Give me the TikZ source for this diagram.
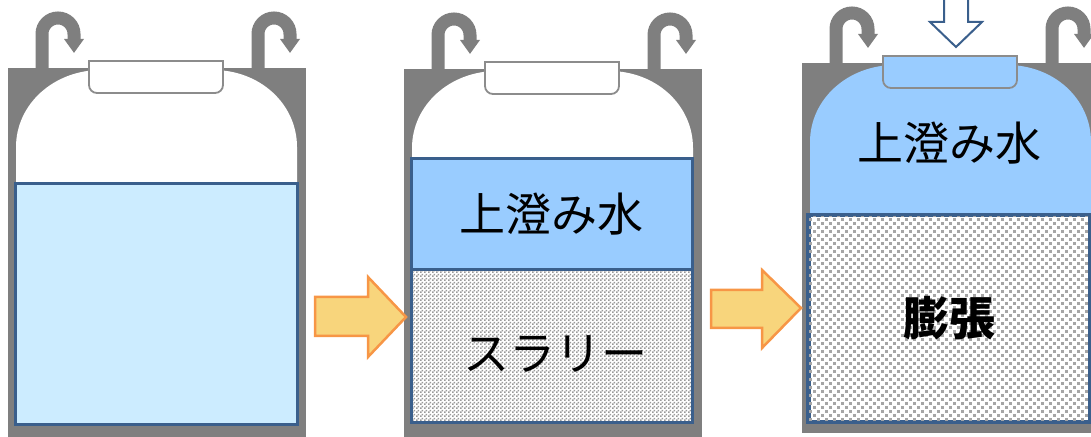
\documentclass[tikz,border=0pt]{standalone}
\usepackage{fontspec}
\newfontfamily\jpfont{Noto Sans CJK JP}
\usetikzlibrary{arrows.meta,patterns.meta}

\definecolor{shellgray}{HTML}{7F7F7F}
\definecolor{lidgray}{HTML}{8C8C8C}
\definecolor{waterblue}{HTML}{CCECFF}
\definecolor{clearblue}{HTML}{99CCFF}
\definecolor{edgeblue}{HTML}{3A5F8C}
\definecolor{arrowfill}{HTML}{F8D57C}
\definecolor{arrowedge}{HTML}{F79646}
\definecolor{dotgray}{HTML}{A6A6A6}

% small checks for the settled slurry
\tikzdeclarepattern{
  name=finechecks, type=uncolored,
  bounding box={(0pt,0pt) and (4pt,4pt)}, tile size={(4pt,4pt)},
  code={\fill (0pt,0pt) rectangle (2pt,2pt); \fill (2pt,2pt) rectangle (4pt,4pt);}}

\begin{document}
\begin{tikzpicture}[
  x=1pt, y=1pt,
  hook/.style={line width=13pt, shellgray, -{Triangle[length=14pt, width=19pt]}},
  layer/.style={draw=edgeblue, line width=3pt, inner sep=0pt, font=\jpfont\fontsize{46}{50}\selectfont},
  slurry/.style={layer, preaction={fill=white}, pattern=finechecks, pattern color=gray!80},
  jptext/.style={font=\jpfont\fontsize{46}{50}\selectfont},
  flow/.style={fill=arrowfill, draw=arrowedge, line width=2.5pt, line join=miter},
  press/.style={fill=white, draw=edgeblue, line width=2pt},
]
  \useasboundingbox (0,0) rectangle (1091,436);
  \clip (0,0) rectangle (1091,436);

  % Vessels: shell, cavity, lid and the two vent hooks
  \foreach \ox/\oy/\bot/\inside in {8/368/372/white, 404/367/372/white, 802/373/370/clearblue} {
    \begin{scope}[shift={(\ox,\oy)}]
      \fill[shellgray] (0,0) rectangle (298,-\bot);
      \fill[\inside] (8,-352) -- (8,-79) .. controls (8,-36) and (46,-2) .. (93,-2)
        -- (205,-2) .. controls (252,-2) and (289,-36) .. (289,-79) -- (289,-352) -- cycle;
      \draw[hook] (34,-2) -- (34,34) arc[start angle=180, end angle=0, radius=16] -- (66,15);
      \draw[hook] (250,-2) -- (250,34) arc[start angle=180, end angle=0, radius=16] -- (282,15);
      \draw[lidgray, line width=1.8pt, fill=\inside] (81,7) -- (81,-17)
        arc[start angle=180, end angle=270, radius=8] -- (207,-25)
        arc[start angle=270, end angle=360, radius=8] -- (215,7) -- cycle;
    \end{scope}
  }

  % Contents
  \node[layer, fill=waterblue, minimum width=282, minimum height=240] (water1) at (156,132) {};
  \node[layer, fill=clearblue, minimum width=281, minimum height=111] (clear2) at (551.5,221.5) {上澄み水};
  \node[slurry, minimum width=281, minimum height=152] (slurry2) at (551.5,90) {};
  \node[jptext] (slurrytext) at (555,82) {スラリー};
  \node[jptext] (clear3) at (949,293) {上澄み水};

  % Swollen bed: coarse staggered dots
  \node[layer, fill=white, minimum width=280, minimum height=205] (swell3) at (949,117.5) {};
  \begin{scope}
    \clip (swell3.south west) rectangle (swell3.north east);
    \foreach \i in {0,...,35}
      \foreach \j in {0,...,26} {
        \fill[dotgray] (809+8*\i,15+8*\j) rectangle ++(3.2,3.2);
        \fill[dotgray] (813+8*\i,19+8*\j) rectangle ++(3.2,3.2);
      }
  \end{scope}
  \draw[edgeblue, line width=3pt] (swell3.south west) rectangle (swell3.north east);
  \node[jptext, font=\jpfont\bfseries\fontsize{46}{50}\selectfont] (swelltext) at (swell3) {膨張};

  % Step arrows
  \draw[flow] (315,139) -- (368,139) -- (368,159) -- (406,119) -- (368,79) -- (368,100) -- (315,100) -- cycle;
  \draw[flow] (711,146) -- (762,146) -- (762,166) -- (801,128) -- (762,88) -- (762,108) -- (711,108) -- cycle;

  % Load on the lid
  \draw[press] (944,440) -- (944,414) -- (930,414) -- (956,389) -- (982,414) -- (968,414) -- (968,440);
\end{tikzpicture}
\end{document}
